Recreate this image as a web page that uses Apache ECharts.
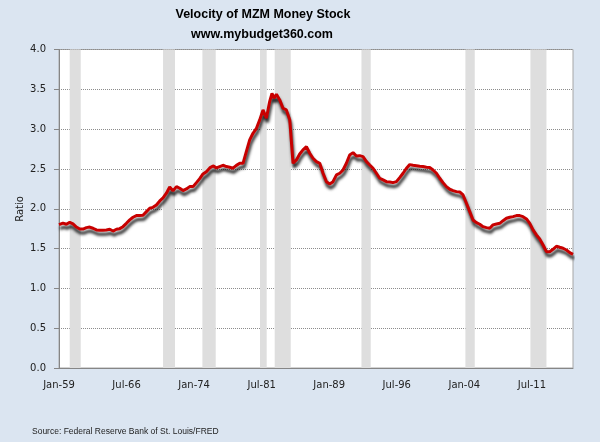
<!DOCTYPE html>
<html>
<head>
<meta charset="utf-8">
<script src="https://cdn.jsdelivr.net/npm/echarts@6/dist/echarts.min.js"></script>
<style>
html,body{margin:0;padding:0;background:#DBE5F1;}
#chart{width:600px;height:442px;}
</style>
</head>
<body>
<div id="chart"></div>
<script>
// Years elapsed since Jan-1959 (horizontal position of each reading)
var yearsSince1959 = [
  0, 0.07, 0.41, 0.77, 1.11, 1.45, 1.80, 2.15, 2.49, 2.84, 3.18, 3.52, 3.88, 4.22, 4.56, 4.91,
  5.26, 5.60, 5.95, 6.29, 6.63, 6.98, 7.33, 7.67, 8.02, 8.36, 8.70, 9.06, 9.40, 9.74, 10.09,
  10.44, 10.78, 11.13, 11.47, 11.81, 12.17, 12.51, 12.85, 13.20, 13.54, 13.89, 14.24, 14.58,
  14.92, 15.27, 15.62, 15.96, 16.31, 16.65, 16.99, 17.35, 17.69, 18.03, 18.38, 18.73, 19.07,
  19.42, 19.76, 20.10, 20.46, 20.80, 21.14, 21.49, 21.83, 22.07, 22.28, 22.53, 22.87, 23.21,
  23.56, 23.91, 24.25, 24.60, 24.94, 25.28, 25.64, 25.98, 26.32, 26.67, 27.02, 27.36, 27.71,
  28.05, 28.39, 28.75, 29.09, 29.43, 29.78, 30.12, 30.47, 30.82, 31.16, 31.50, 31.86, 32.20,
  32.54, 32.89, 33.23, 33.58, 33.93, 34.27, 34.61, 34.96, 35.30, 35.65, 36.00, 36.34, 36.68,
  37.04, 37.38, 37.72, 38.07, 38.41, 38.76, 39.11, 39.45, 39.79, 40.14, 40.49, 40.83, 41.18,
  41.52, 41.87, 42.22, 42.56, 42.90, 43.25, 43.60, 43.94, 44.29, 44.63, 44.97, 45.33, 45.67,
  46.01, 46.36, 46.71, 47.05, 47.40, 47.74, 48.08, 48.44, 48.78, 49.12, 49.47, 49.81, 50.16,
  50.51, 50.85, 51.19, 51.54, 51.89, 52.23, 52.58, 52.92, 53.26
];
// Velocity of MZM (ratio)
var velocity = [
  1.80, 1.805, 1.82, 1.805, 1.83, 1.81, 1.77, 1.745, 1.745, 1.763, 1.77, 1.755, 1.734, 1.73, 1.73, 1.734,
  1.742, 1.72, 1.742, 1.75, 1.775, 1.817, 1.86, 1.893, 1.914, 1.914, 1.918, 1.964, 2.006, 2.018, 2.048,
  2.098, 2.136, 2.195, 2.274, 2.224, 2.278, 2.257, 2.228, 2.249, 2.278, 2.278, 2.328, 2.378,
  2.437, 2.466, 2.513, 2.538, 2.513, 2.53, 2.546, 2.53, 2.521, 2.509, 2.545, 2.571, 2.57,
  2.72, 2.864, 2.948, 3.01, 3.116, 3.241, 3.136, 3.346, 3.45, 3.388, 3.437, 3.367, 3.262,
  3.241, 3.116, 2.571, 2.613, 2.688, 2.739, 2.78, 2.697, 2.634, 2.592, 2.571, 2.446, 2.34,
  2.312, 2.34, 2.425, 2.446, 2.487, 2.571, 2.676, 2.705, 2.663, 2.667, 2.655, 2.592, 2.55,
  2.509, 2.446, 2.383, 2.362, 2.34, 2.337, 2.328, 2.34, 2.391, 2.446, 2.509, 2.554, 2.546,
  2.54, 2.534, 2.53, 2.521, 2.519, 2.487, 2.446, 2.383, 2.328, 2.278, 2.245, 2.228, 2.215,
  2.211, 2.173, 2.069, 1.964, 1.859, 1.826, 1.805, 1.775, 1.763, 1.755, 1.797, 1.809, 1.817,
  1.85, 1.88, 1.893, 1.901, 1.914, 1.914, 1.901, 1.872, 1.817, 1.734, 1.671, 1.621, 1.545,
  1.461, 1.461, 1.491, 1.529, 1.516, 1.504, 1.482, 1.449, 1.428
];
// Recession shading (years since Jan-1959)
var recessionStart = [1.11, 10.78, 14.86, 20.83, 22.35, 31.34, 42.11, 48.85];
var recessionEnd   = [2.25, 12.02, 16.24, 21.52, 24.01, 32.30, 43.08, 50.51];
// X tick labels (one every 7 years from the start)
var xTickLabels = ['Jan-59', 'Jul-66', 'Jan-74', 'Jul-81', 'Jan-89', 'Jul-96', 'Jan-04', 'Jul-11'];

var seriesData = yearsSince1959.map(function (t, i) { return [t, velocity[i]]; });
var bands = recessionStart.map(function (s, i) {
  return [{ xAxis: s }, { xAxis: recessionEnd[i] }];
});

var chart = echarts.init(document.getElementById('chart'));
chart.setOption({
  backgroundColor: '#DBE5F1',
  animation: false,
  grid: {
    left: 59, right: 27, top: 49.5, bottom: 74,
    show: true, backgroundColor: '#FFFFFF', borderColor: '#A6A6A6', borderWidth: 1
  },
  xAxis: {
    type: 'value', min: 0, max: 53.26, interval: 7,
    axisLine: { show: true, lineStyle: { color: '#868686', width: 1 } },
    axisTick: { show: false },
    splitLine: { show: false },
    axisLabel: {
      margin: 12, color: '#222', fontFamily: 'DejaVu Sans', fontSize: 10,
      showMaxLabel: false,
      formatter: function (v) {
        var k = Math.round(v / 7);
        return Math.abs(k * 7 - v) < 1e-6 && xTickLabels[k] ? xTickLabels[k] : '';
      }
    }
  },
  yAxis: {
    type: 'value', min: 0, max: 4, interval: 0.5,
    axisLine: { show: true, lineStyle: { color: '#868686', width: 1 } },
    axisTick: { show: true, length: 5, lineStyle: { color: '#868686' } },
    splitLine: { show: true, lineStyle: { color: '#8C8C8C', width: 1, type: [1, 1] } },
    axisLabel: {
      margin: 13, color: '#222', fontFamily: 'DejaVu Sans', fontSize: 10,
      formatter: function (v) { return v.toFixed(1); }
    }
  },
  series: [
    {
      type: 'line', data: [], silent: true, z: 1,
      markArea: {
        silent: true,
        itemStyle: { color: '#DEDEDE' },
        data: bands
      }
    },
    {
      type: 'line', data: seriesData, z: 5,
      showSymbol: false, symbol: 'none', smooth: false,
      lineStyle: {
        color: '#C80000', width: 3,
        shadowColor: 'rgba(0,0,0,0.85)', shadowBlur: 3, shadowOffsetX: 1, shadowOffsetY: 4
      }
    }
  ],
  graphic: [
    { type: 'text', x: 263, y: 14.5, style: { text: 'Velocity of MZM Money Stock', textAlign: 'center', textVerticalAlign: 'middle', font: 'bold 12.5px "Liberation Sans"', fill: '#000' } },
    { type: 'text', x: 262, y: 35, style: { text: 'www.mybudget360.com', textAlign: 'center', textVerticalAlign: 'middle', font: 'bold 12.5px "Liberation Sans"', fill: '#000' } },
    { type: 'text', x: 20, y: 209, rotation: Math.PI / 2, style: { text: 'Ratio', textAlign: 'center', textVerticalAlign: 'middle', font: '10px "DejaVu Sans"', fill: '#222' } },
    { type: 'text', x: 32, y: 432, style: { text: 'Source: Federal Reserve Bank of St. Louis/FRED', textAlign: 'left', textVerticalAlign: 'middle', font: '8.5px "Liberation Sans"', fill: '#222' } }
  ]
});
</script>
</body>
</html>
